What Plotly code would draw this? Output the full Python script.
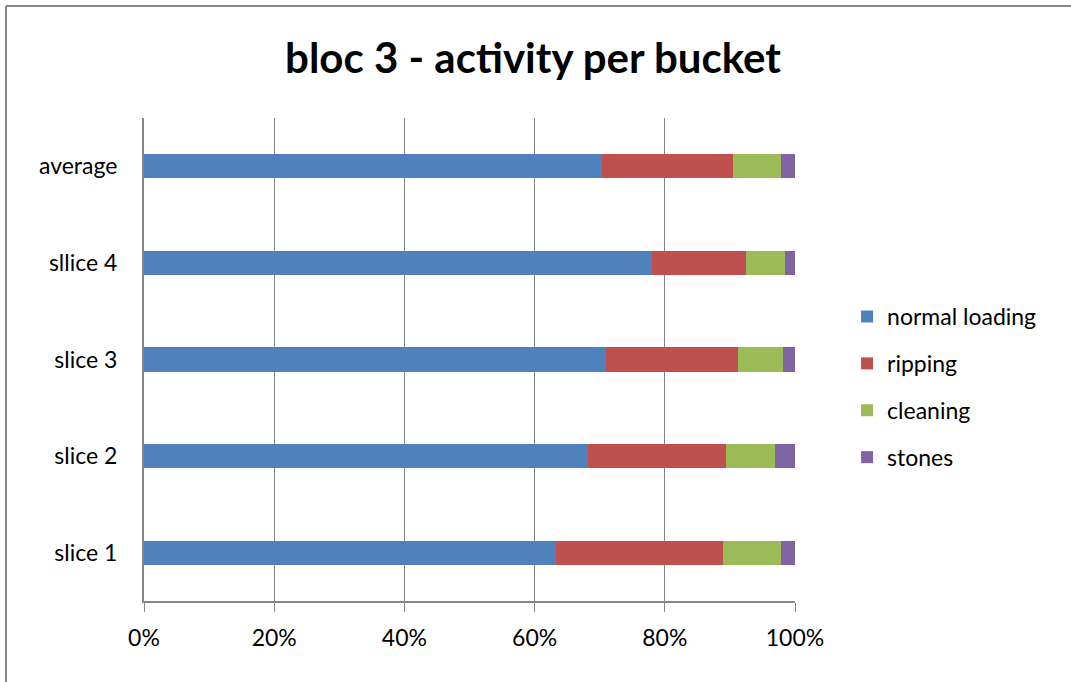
import plotly.graph_objects as go

# Buckets, bottom to top
categories = ["slice 1", "slice 2", "slice 3", "sllice 4", "average"]

# Share of each activity per bucket (%)
normal_loading = [63.3, 68.2, 70.9, 78.1, 70.3]
ripping = [25.7, 21.2, 20.4, 14.4, 20.2]
cleaning = [8.8, 7.6, 6.8, 5.9, 7.3]
stones = [2.2, 3.0, 1.9, 1.6, 2.2]

x_ticks = [0, 20, 40, 60, 80, 100]
x_tick_labels = [f"{v}%" for v in x_ticks]

series = [
    ("normal loading", normal_loading, "#4F81BD"),
    ("ripping", ripping, "#C0504D"),
    ("cleaning", cleaning, "#9BBB59"),
    ("stones", stones, "#8064A2"),
]

FONT = "Lato, Open Sans, sans-serif"
GRID = "#868686"
FS = 23

fig = go.Figure()
for name, vals, color in series:
    fig.add_trace(go.Bar(
        y=categories, x=vals, name=name, orientation="h",
        marker=dict(color=color, line=dict(width=0)),
        legendgroup=name,
    ))

fig.update_layout(
    barmode="stack",
    barnorm="percent",
    bargap=0.75,
    width=1071, height=682,
    margin=dict(l=144, r=276, t=118, b=81),
    paper_bgcolor="white", plot_bgcolor="white",
    font=dict(family=FONT, size=FS, color="black"),
    title=dict(
        text="<b>bloc 3 - activity per bucket</b>",
        font=dict(family=FONT, size=42, color="black"),
        x=533 / 1071, xanchor="center",
        y=1 - 58 / 682, yanchor="middle",
    ),
    legend=dict(
        x=1.08, xanchor="left",
        y=0.443, yanchor="middle",
        traceorder="grouped",
        tracegroupgap=14,
        font=dict(family=FONT, size=FS, color="black"),
        bgcolor="rgba(0,0,0,0)",
    ),
    xaxis=dict(
        range=[0, 100],
        tickmode="array",
        tickvals=x_ticks,
        ticktext=x_tick_labels,
        showgrid=True, gridcolor=GRID, gridwidth=1,
        showline=True, linecolor=GRID, linewidth=2,
        ticks="outside", ticklen=9, tickcolor=GRID, tickwidth=1,
        ticklabelstandoff=6,
        zeroline=False,
        tickfont=dict(family=FONT, size=FS, color="black"),
    ),
    yaxis=dict(
        type="category",
        categoryorder="array", categoryarray=categories,
        showgrid=False,
        showline=True, linecolor=GRID, linewidth=2,
        ticks="", ticklabelstandoff=20,
        tickfont=dict(family=FONT, size=FS, color="black"),
    ),
    shapes=[
        # chart frame (left and top edges)
        dict(type="line", xref="paper", yref="paper",
             x0=(6 - 144) / 651, x1=(6 - 144) / 651,
             y0=(601 - 690) / 483, y1=(601 - 6) / 483,
             line=dict(color=GRID, width=2)),
        dict(type="line", xref="paper", yref="paper",
             x0=(6 - 144) / 651, x1=(1080 - 144) / 651,
             y0=(601 - 6) / 483, y1=(601 - 6) / 483,
             line=dict(color=GRID, width=2)),
    ],
)

fig.write_html("out.html")
